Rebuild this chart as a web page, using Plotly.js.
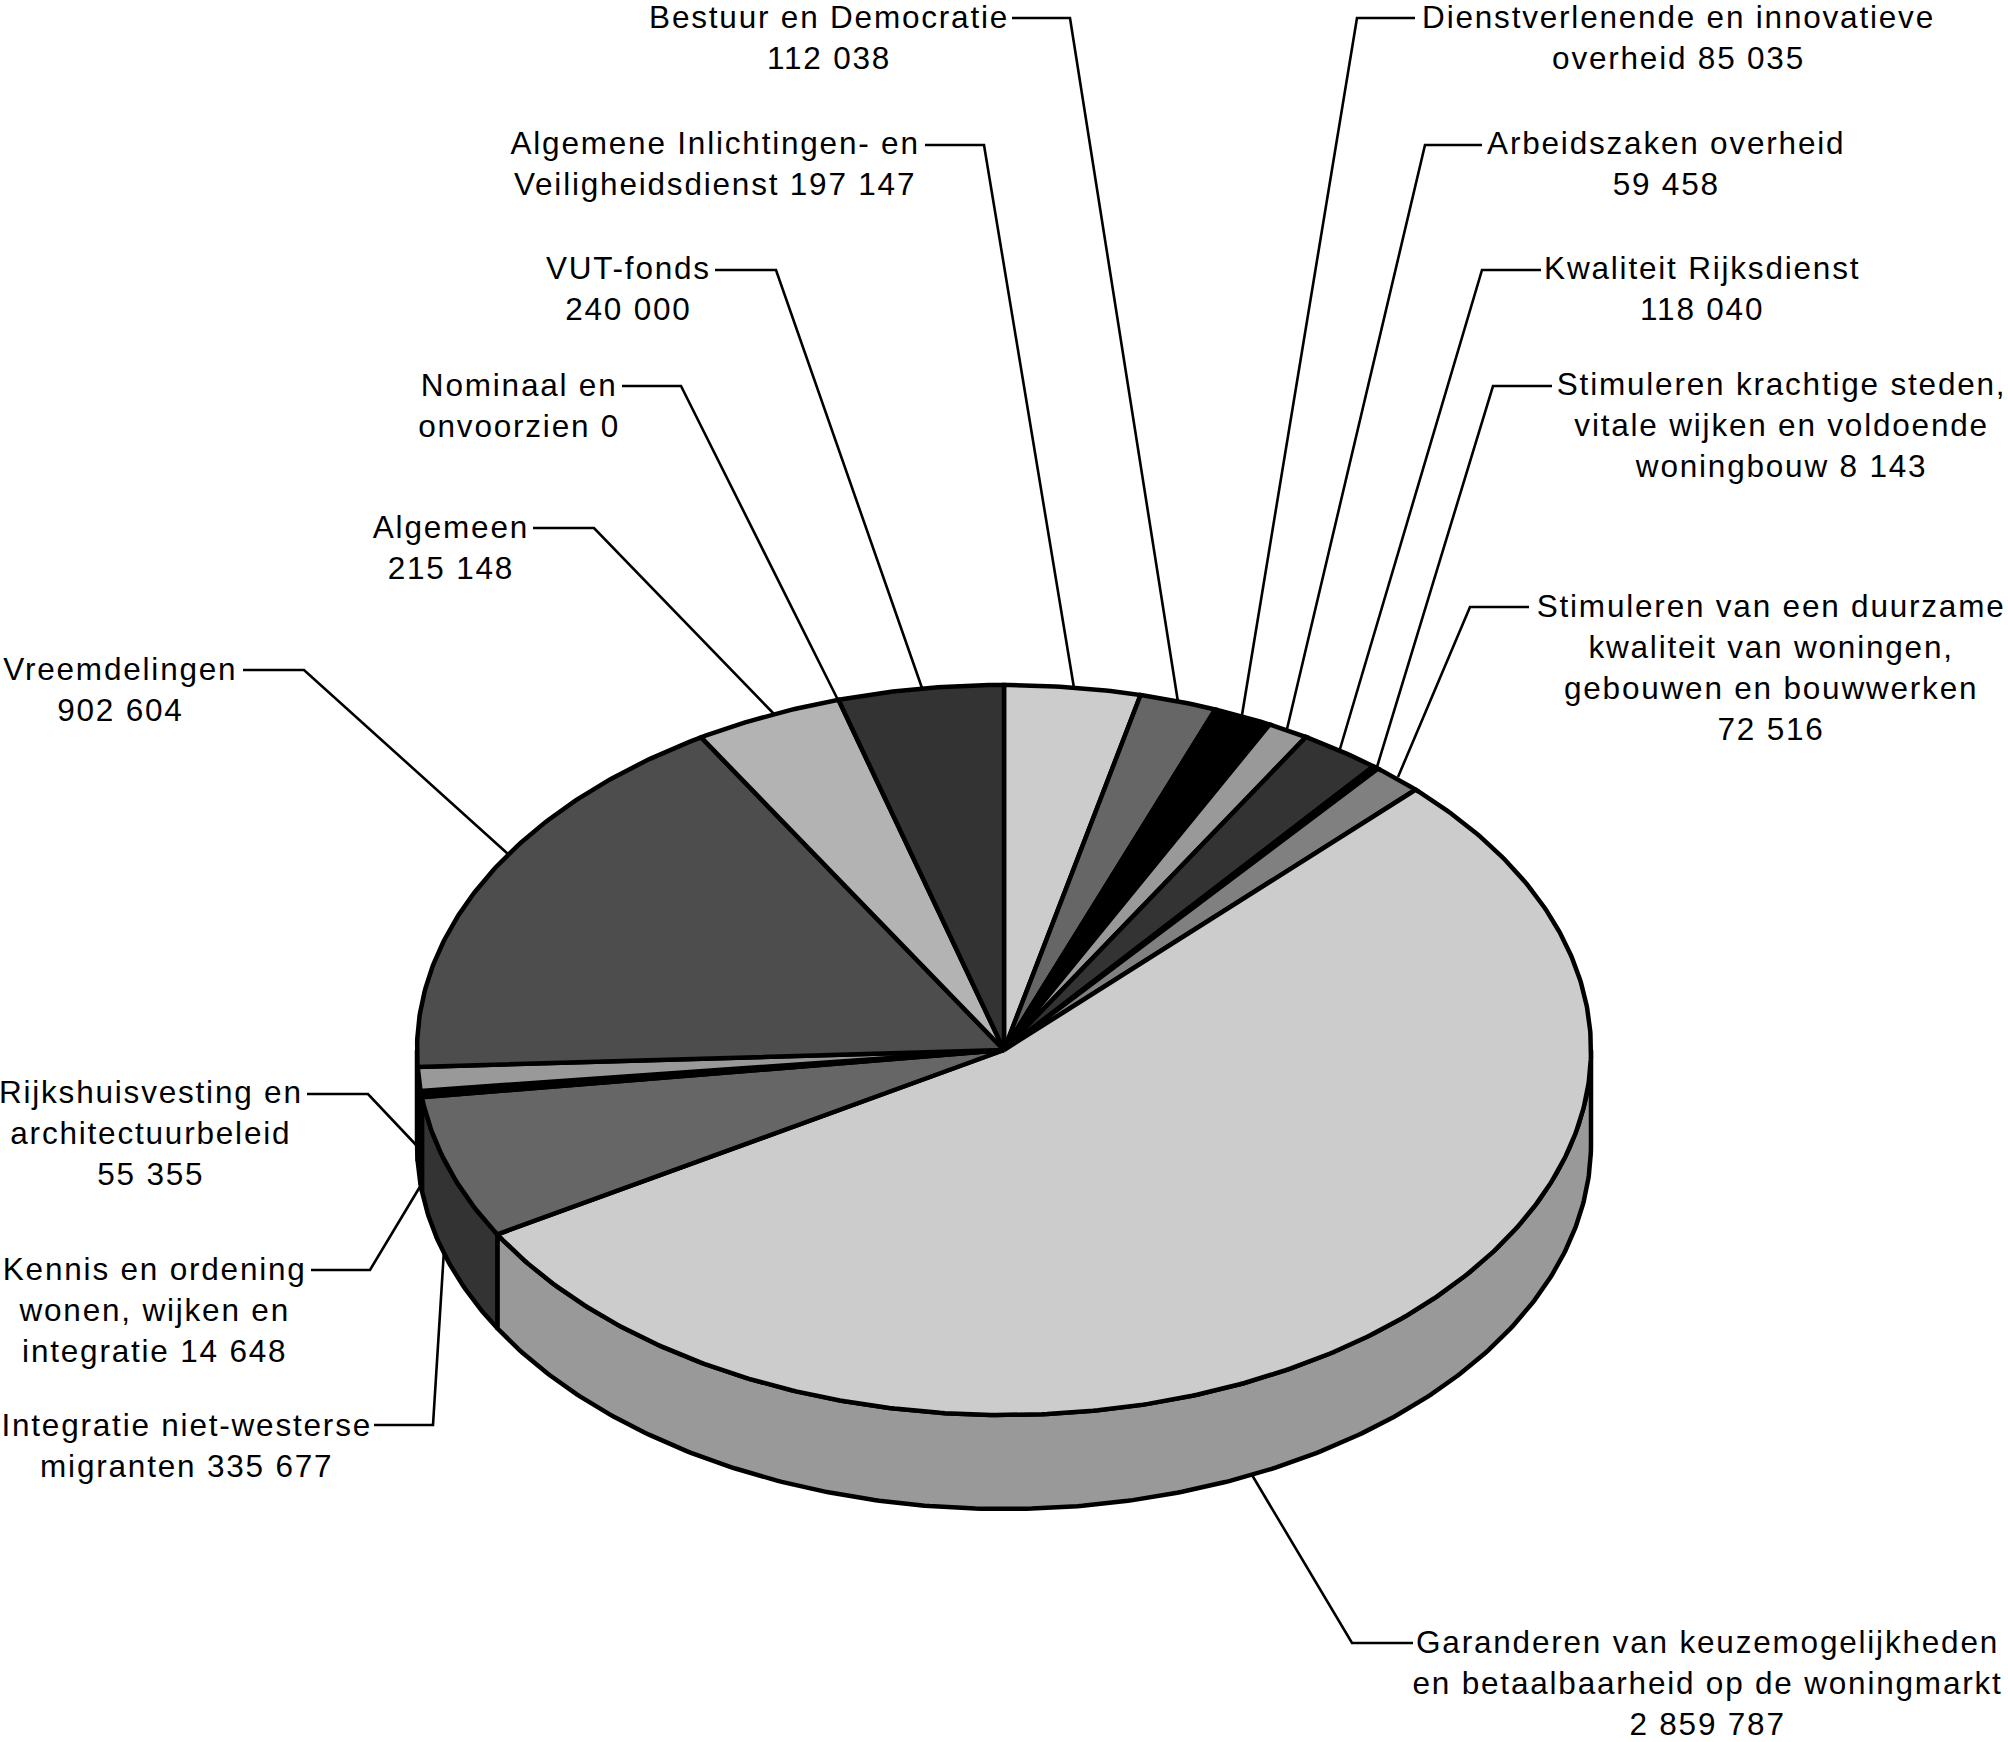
<!DOCTYPE html>
<html><head><meta charset="utf-8">
<script src="https://cdn.plot.ly/plotly-3.0.1.min.js"></script>
<style>html,body{margin:0;padding:0;background:#fff}
.annotation text{letter-spacing:1.8px}</style></head>
<body><div id="chart" style="width:2008px;height:1742px"></div>
<script>
// clockwise from 12 o'clock
const categories = ["Algemene Inlichtingen- en Veiligheidsdienst","Bestuur en Democratie","Dienstverlenende en innovatieve overheid","Arbeidszaken overheid","Kwaliteit Rijksdienst","Stimuleren krachtige steden, vitale wijken en voldoende woningbouw","Stimuleren van een duurzame kwaliteit van woningen, gebouwen en bouwwerken","Garanderen van keuzemogelijkheden en betaalbaarheid op de woningmarkt","Integratie niet-westerse migranten","Kennis en ordening wonen, wijken en integratie","Rijkshuisvesting en architectuurbeleid","Vreemdelingen","Algemeen","Nominaal en onvoorzien","VUT-fonds"];
const values = [197147,112038,85035,59458,118040,8143,72516,2859787,335677,14648,55355,902604,215148,0,240000];
const valueLabels = ["197 147","112 038","85 035","59 458","118 040","8 143","72 516","2 859 787","335 677","14 648","55 355","902 604","215 148","0","240 000"];
const labelTexts = [
 "Algemene Inlichtingen- en<br>Veiligheidsdienst 197 147",
 "Bestuur en Democratie<br>112 038",
 "Dienstverlenende en innovatieve<br>overheid 85 035",
 "Arbeidszaken overheid<br>59 458",
 "Kwaliteit Rijksdienst<br>118 040",
 "Stimuleren krachtige steden,<br>vitale wijken en voldoende<br>woningbouw 8 143",
 "Stimuleren van een duurzame<br>kwaliteit van woningen,<br>gebouwen en bouwwerken<br>72 516",
 "Garanderen van keuzemogelijkheden<br>en betaalbaarheid op de woningmarkt<br>2 859 787",
 "Integratie niet-westerse<br>migranten 335 677",
 "Kennis en ordening<br>wonen, wijken en<br>integratie 14 648",
 "Rijkshuisvesting en<br>architectuurbeleid<br>55 355",
 "Vreemdelingen<br>902 604",
 "Algemeen<br>215 148",
 "Nominaal en<br>onvoorzien 0",
 "VUT-fonds<br>240 000"];
// styles
const topColors  = ["#cccccc","#666666","#000000","#999999","#333333","#000000","#808080","#cccccc","#666666","#000000","#999999","#4d4d4d","#b3b3b3","#808080","#333333"];
const sideColors = ["#999999","#4d4d4d","#000000","#737373","#262626","#000000","#606060","#999999","#333333","#000000","#737373","#3a3a3a","#868686","#606060","#262626"];
// pie geometry (page pixels)
const CX=1004, CY=1050, RX=587, RY=365, DEPTH=94, FONT=31.5, LW=4.5;
// label block centres (page pixels), same order as categories
const labelX = [715,829,1678,1666,1702,1781,1771,1707,186,154,151,120,451,519,628];
const labelY = [163,37,37,163,288,425,667,1683,1445,1310,1133,689,547,405,288];
// leader paths (page pixels), same order
const leaders = [
 [[925,145],[984,145],[1074,688]],
 [[1012,18],[1070,18],[1178,702]],
 [[1415,18],[1357,18],[1242,715]],
 [[1482,145],[1425,145],[1287,729]],
 [[1541,270],[1482,270],[1340,749]],
 [[1552,386],[1493,386],[1377,767]],
 [[1529,607],[1470,607],[1398,777]],
 [[1413,1643],[1352,1643],[1252,1475]],
 [[374,1425],[433,1425],[444,1250]],
 [[311,1270],[370,1270],[424,1180]],
 [[307,1094],[368,1094],[418,1147]],
 [[243,670],[304,670],[508,854]],
 [[533,528],[594,528],[775,715]],
 [[622,386],[681,386],[839,702]],
 [[715,270],[776,270],[922,688]]];

const total = values.reduce((a,b)=>a+b,0);
const pt=(deg,dy)=>{const r=deg*Math.PI/180;return [CX+RX*Math.sin(r),CY-RY*Math.cos(r)+(dy||0)];};
const arc=(a,b,dy)=>{const n=Math.max(2,Math.ceil(Math.abs(b-a)/0.5));const o=[];for(let i=0;i<=n;i++)o.push(pt(a+(b-a)*i/n,dy));return o;};
const traces=[];
let cum=0; const spans=values.map(v=>{const s=cum/total*360;cum+=v;return [s,cum/total*360];});
function poly(points,color,name,txt){
  traces.push({type:"scatter",mode:"lines",x:points.map(p=>p[0]),y:points.map(p=>p[1]),fill:"toself",fillcolor:color,
    line:{color:"#000",width:LW,shape:"linear"},name:name,text:txt,hoverinfo:"text",showlegend:false});
}
// side wall (only the front half of the rim is visible)
spans.forEach((s,i)=>{
  const a=Math.max(s[0],90), b=Math.min(s[1],270);
  if(b<=a) return;
  poly(arc(a,b,0).concat(arc(b,a,DEPTH)).concat([pt(a,0)]),sideColors[i],categories[i],categories[i]+": "+valueLabels[i]);
});
// top face
spans.forEach((s,i)=>{
  if(values[i]<=0) return;
  poly([[CX,CY]].concat(arc(s[0],s[1],0)).concat([[CX,CY]]),topColors[i],categories[i],categories[i]+": "+valueLabels[i]);
});
const shapes=leaders.map(l=>({type:"path",layer:"below",xref:"x",yref:"y",
  path:"M"+l.map(p=>p[0]+","+p[1]).join("L"),line:{color:"#000",width:2.6},fillcolor:"rgba(0,0,0,0)"}));
const annotations=labelTexts.map((t,i)=>({xref:"x",yref:"y",x:labelX[i],y:labelY[i],text:t,showarrow:false,
  xanchor:"center",yanchor:"middle",align:"center",font:{family:"Liberation Sans, Arial, sans-serif",size:FONT,color:"#000"}}));
Plotly.newPlot("chart",traces,{
  width:2008,height:1742,margin:{l:0,r:0,t:0,b:0},paper_bgcolor:"#fff",plot_bgcolor:"#fff",showlegend:false,
  xaxis:{range:[0,2008],visible:false,fixedrange:true},
  yaxis:{range:[1742,0],visible:false,fixedrange:true},
  shapes:shapes,annotations:annotations,hovermode:"closest"
},{displayModeBar:false});
</script></body></html>
